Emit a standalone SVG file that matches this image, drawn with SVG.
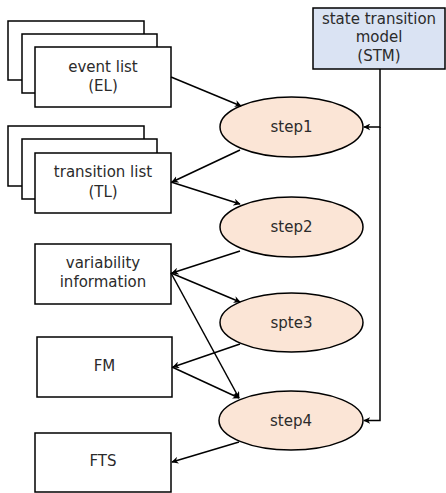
<svg xmlns="http://www.w3.org/2000/svg" width="446" height="493" viewBox="0 0 446 493">
  <style>
    .box { fill: #ffffff; stroke: #000000; stroke-width: 1.5; }
    .stm { fill: #dae3f3; stroke: #000000; stroke-width: 1.5; }
    .step { fill: #fbe5d6; stroke: #000000; stroke-width: 1.5; }
    .lbl { font-family: "DejaVu Sans", "Noto Sans CJK JP", sans-serif; font-size: 15px; fill: #2b2b2b; text-anchor: middle; dominant-baseline: central; }
    .edge { fill: none; stroke: #000000; stroke-width: 1.5; }
  </style>
  <defs>
    <marker id="arrow" viewBox="0 0 10 10" refX="9" refY="5" markerWidth="7" markerHeight="7" markerUnits="userSpaceOnUse" orient="auto">
      <path d="M0,0 L10,5 L0,10 L3,5 z" fill="#000000"/>
    </marker>
  </defs>
  <rect width="446" height="493" fill="#ffffff"/>

  <!-- document stack: event lists -->
  <g id="event-list">
    <rect class="box" x="8" y="21" width="136" height="59"/>
    <rect class="box" x="22" y="34" width="135" height="59"/>
    <rect class="box" x="35" y="47" width="136" height="60"/>
    <text class="lbl" x="103" y="67">event list</text>
    <text class="lbl" x="103" y="86">(EL)</text>
  </g>

  <!-- document stack: transition lists -->
  <g id="transition-list">
    <rect class="box" x="8" y="126" width="136" height="60"/>
    <rect class="box" x="22" y="139" width="135" height="60"/>
    <rect class="box" x="35" y="153" width="136" height="60"/>
    <text class="lbl" x="103" y="172">transition list</text>
    <text class="lbl" x="103" y="192">(TL)</text>
  </g>

  <g id="variability">
    <rect class="box" x="35" y="244" width="136" height="60"/>
    <text class="lbl" x="103" y="263">variability</text>
    <text class="lbl" x="103" y="282">information</text>
  </g>

  <g id="fm">
    <rect class="box" x="37" y="337" width="135" height="60"/>
    <text class="lbl" x="104.5" y="366">FM</text>
  </g>

  <g id="fts">
    <rect class="box" x="35" y="433" width="136" height="59"/>
    <text class="lbl" x="103" y="461">FTS</text>
  </g>

  <g id="stm">
    <rect class="stm" x="313" y="8" width="132" height="61"/>
    <text class="lbl" x="379" y="19">state transition</text>
    <text class="lbl" x="379" y="37">model</text>
    <text class="lbl" x="379" y="56">(STM)</text>
  </g>

  <g id="step1">
    <ellipse class="step" cx="291.5" cy="127" rx="71.5" ry="30"/>
    <text class="lbl" x="291.5" y="127">step1</text>
  </g>
  <g id="step2">
    <ellipse class="step" cx="291.5" cy="227" rx="71.5" ry="30"/>
    <text class="lbl" x="291.5" y="227">step2</text>
  </g>
  <g id="step3">
    <ellipse class="step" cx="291.5" cy="322.5" rx="71.5" ry="29.5"/>
    <text class="lbl" x="291.5" y="322.5">spte3</text>
  </g>
  <g id="step4">
    <ellipse class="step" cx="291" cy="420.5" rx="72" ry="29.5"/>
    <text class="lbl" x="291" y="420.5">step4</text>
  </g>

  <g id="connectors">
    <line class="edge" x1="171" y1="77" x2="241" y2="106" marker-end="url(#arrow)"/>
    <path class="edge" d="M380,69 V127 H364" marker-end="url(#arrow)"/>
    <path class="edge" d="M380,127 V420.5 H364" marker-end="url(#arrow)"/>
    <line class="edge" x1="240" y1="150" x2="172" y2="182" marker-end="url(#arrow)"/>
    <line class="edge" x1="171" y1="182" x2="240" y2="204" marker-end="url(#arrow)"/>
    <line class="edge" x1="240" y1="251" x2="172" y2="273" marker-end="url(#arrow)"/>
    <line class="edge" x1="171" y1="273" x2="240" y2="302" marker-end="url(#arrow)"/>
    <line class="edge" x1="171" y1="273" x2="239" y2="398" marker-end="url(#arrow)"/>
    <line class="edge" x1="240" y1="344" x2="173" y2="367" marker-end="url(#arrow)"/>
    <line class="edge" x1="172" y1="367" x2="239" y2="398" marker-end="url(#arrow)"/>
    <line class="edge" x1="239" y1="442" x2="172" y2="462" marker-end="url(#arrow)"/>
  </g>
</svg>
